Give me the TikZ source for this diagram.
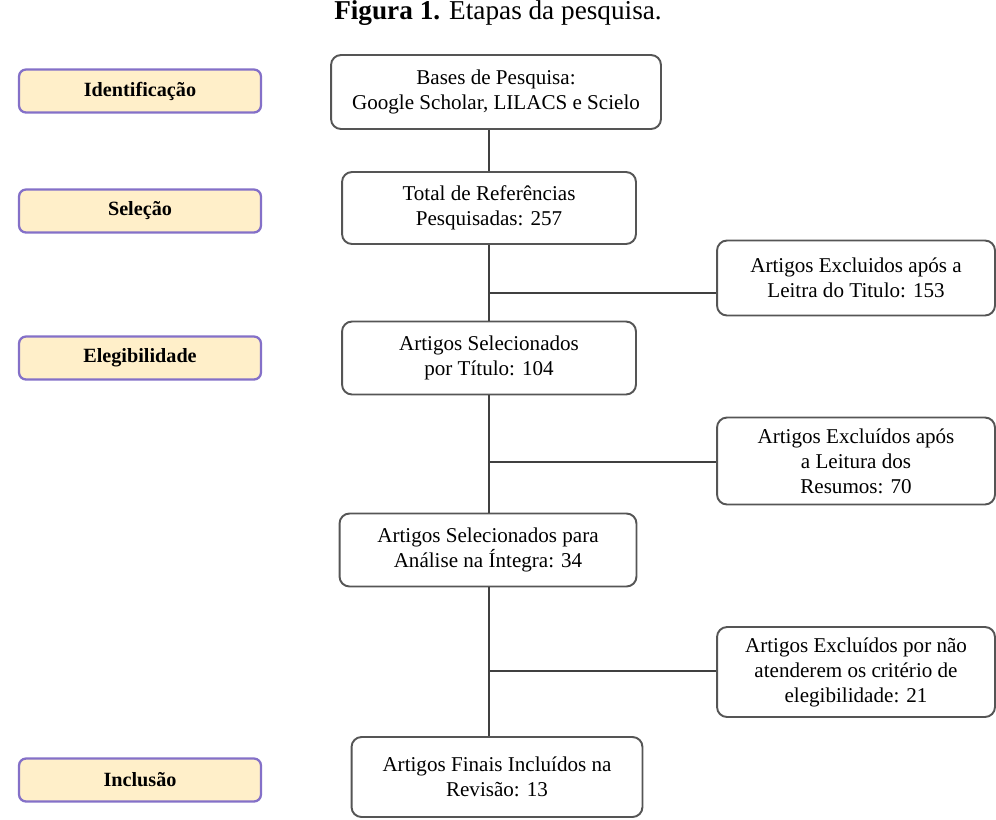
\documentclass[tikz,border=0pt]{standalone}
\usepackage{fontspec}
\setmainfont{Liberation Serif}
\usetikzlibrary{positioning}
\definecolor{etapafill}{HTML}{FFEFC9}
\definecolor{etapadraw}{HTML}{8470C8}
\definecolor{boxdraw}{HTML}{555555}
\tikzset{
  etapa/.style={draw=etapadraw, fill=etapafill, line width=1.3pt, rounded corners=4pt,
    minimum width=4.84cm, minimum height=0.86cm, font=\fontsize{11.5}{13}\selectfont\bfseries},
  caixa/.style={draw=boxdraw, line width=1.1pt, rounded corners=0.2cm, align=center,
    font=\fontsize{12}{14.2}\selectfont},
  exclu/.style={caixa, minimum width=5.56cm},
  fluxo/.style={draw=black!75, line width=1.5pt}
}
\begin{document}
\begin{tikzpicture}[x=0.02cm, y=-0.02cm]
  \useasboundingbox (0,0) rectangle (996,819);
  \clip (0,0) rectangle (996,819);
  % --- title ---
  \node[font=\fontsize{15.5}{17}\selectfont] (titulo) at (498,13) {\textbf{Figura 1.} Etapas da pesquisa.};
  % --- stages (left) ---
  \node[etapa] (ident) at (140,91) {Identificação};
  \node[etapa] (selec) at (140,211) {Seleção};
  \node[etapa] (elegi) at (140,358) {Elegibilidade};
  \node[etapa] (inclu) at (140,780) {Inclusão};
  % --- main flow ---
  \node[caixa, minimum width=6.6cm, minimum height=1.48cm] (bases) at (496,92)
    {Bases de Pesquisa:\\Google Scholar, LILACS e Scielo};
  \node[caixa, minimum width=5.88cm, minimum height=1.44cm] (total) at (489,208)
    {Total de Referências\\ Pesquisadas: 257};
  \node[caixa, minimum width=5.88cm, minimum height=1.46cm] (titsel) at (489,358)
    {Artigos Selecionados\\por Título: 104};
  \node[caixa, minimum width=5.94cm, minimum height=1.46cm] (integra) at (488,550)
    {Artigos Selecionados para\\Análise na Íntegra: 34};
  \node[caixa, minimum width=5.82cm, minimum height=1.6cm] (finais) at (497,777)
    {Artigos Finais Incluídos na\\Revisão: 13};
  % --- excluded (right) ---
  \node[exclu, minimum height=1.5cm] (exc1) at (856,278)
    {Artigos Excluidos após a\\Leitra do Titulo: 153};
  \node[exclu, minimum height=1.74cm] (exc2) at (856,461)
    {Artigos Excluídos após\\a Leitura dos\\Resumos: 70};
  \node[exclu, minimum height=1.8cm] (exc3) at (856,672)
    {Artigos Excluídos por não\\atenderem os critério de\\elegibilidade: 21};
  % --- connectors ---
  \coordinate (r1) at (489,293);
  \coordinate (r2) at (489,462);
  \coordinate (r3) at (489,671);
  \draw[fluxo] (bases.south -| r1) -- (total.north -| r1);
  \draw[fluxo] (total.south -| r1) -- (titsel.north -| r1);
  \draw[fluxo] (titsel.south -| r1) -- (integra.north -| r1);
  \draw[fluxo] (integra.south -| r1) -- (finais.north -| r1);
  \draw[fluxo] (r1) -- (r1 -| exc1.west);
  \draw[fluxo] (r2) -- (r2 -| exc2.west);
  \draw[fluxo] (r3) -- (r3 -| exc3.west);
\end{tikzpicture}
\end{document}
